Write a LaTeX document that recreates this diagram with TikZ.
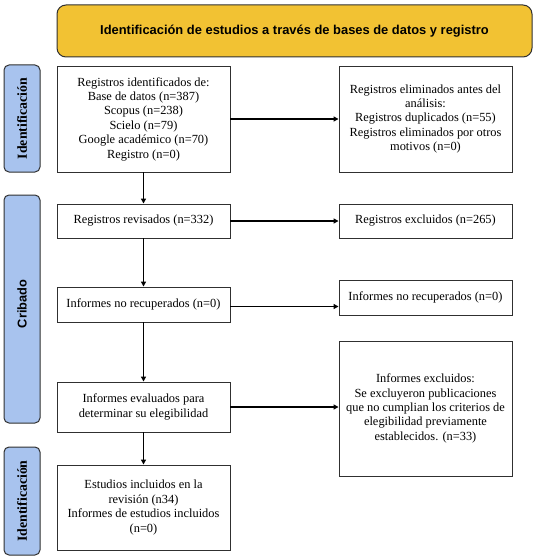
\documentclass[tikz,border=0pt]{standalone}
\usepackage{fontspec}
\setmainfont{Liberation Serif}
\setsansfont{Liberation Sans}
\usetikzlibrary{arrows.meta}
\definecolor{hdr}{HTML}{F2C233}
\definecolor{lbl}{HTML}{A8C3EE}
\definecolor{edge}{HTML}{303030}
\begin{document}
\begin{tikzpicture}[x=1pt,y=-1pt,
  box/.style={draw=edge,line width=0.9pt,fill=white,align=center,inner sep=1pt,
    font=\fontsize{12.4}{14.4}\selectfont},
  header/.style={draw=edge,line width=1pt,fill=hdr,rounded corners=9pt,
    font=\sffamily\bfseries\fontsize{12.9}{14}\selectfont},
  side/.style={draw=edge,line width=1pt,fill=lbl,rounded corners=5pt,
    minimum width=36pt,inner sep=0pt},
  sidetext/.style={rotate=90,font=\bfseries\fontsize{13.8}{15}\selectfont},
  sidesans/.style={rotate=90,font=\sffamily\bfseries\fontsize{12.8}{14}\selectfont},
  arr/.style={line width=1.5pt,draw=black,-{Triangle[length=5pt,width=5pt]}}
]
\useasboundingbox (0,0) rectangle (538,559);
\node[header,minimum width=475pt,minimum height=52pt] (hd) at (294.5,31) {Identificación de estudios a través de bases de datos y registro};
% side labels
\node[side,minimum height=107pt] (s1) at (22,118.5) {};
\node[sidetext] (s1t) at (s1.center) {Identificación};
\node[side,minimum height=228pt] (s2) at (22,309) {};
\node[sidesans] (s2t) at ([yshift=5pt]s2.center) {\sffamily Cribado};
\node[side,minimum height=108pt] (s3) at (22,501) {};
\node[sidetext] (s3t) at (s3.center) {Identificación};
% left column
\node[box,minimum width=173pt,minimum height=106pt] (b1) at (143.5,119) {Registros identificados de:\\Base de datos (n=387)\\Scopus (n=238)\\Scielo (n=79)\\Google académico (n=70)\\Registro (n=0)};
\node[box,minimum width=173pt,minimum height=34pt] (b2) at (143.5,221) {Registros revisados (n=332)};
\node[box,minimum width=173pt,minimum height=35pt] (b3) at (143.5,304.5) {Informes no recuperados (n=0)};
\node[box,minimum width=173pt,minimum height=50pt] (b4) at (143.5,407) {Informes evaluados para\\determinar su elegibilidad};
\node[box,minimum width=173pt,minimum height=85pt] (b5) at (143.5,507.5) {Estudios incluidos en la\\revisión (n34)\\Informes de estudios incluidos\\(n=0)};
% right column
\node[box,minimum width=173pt,minimum height=106pt] (r1) at (425.5,119) {Registros eliminados antes del\\análisis:\\Registros duplicados (n=55)\\Registros eliminados por otros\\motivos (n=0)};
\node[box,minimum width=173pt,minimum height=34pt] (r2) at (425.5,221) {Registros excluidos (n=265)};
\node[box,minimum width=173pt,minimum height=35pt] (r3) at (425.5,297.5) {Informes no recuperados (n=0)};
\node[box,minimum width=173pt,minimum height=135pt] (r4) at (425.5,408.5) {Informes excluidos:\\Se excluyeron publicaciones\\que no cumplian los criterios de\\elegibilidad previamente\\establecidos. (n=33)};
% arrows
\draw[arr] (b1.east) -- (b1.east -| r1.west);
\draw[arr] (b2.east) -- (b2.east -| r2.west);
\coordinate (c3) at ([yshift=-2pt]b3.east);
\draw[arr] (c3) -- (c3 -| r3.west);
\draw[arr] (b4.east) -- (b4.east -| r4.west);
\draw[arr] (b1.south) -- (b2.north);
\draw[arr] (b2.south) -- (b3.north);
\draw[arr] (b3.south) -- (b4.north);
\draw[arr] (b4.south) -- (b5.north);
\end{tikzpicture}
\end{document}
